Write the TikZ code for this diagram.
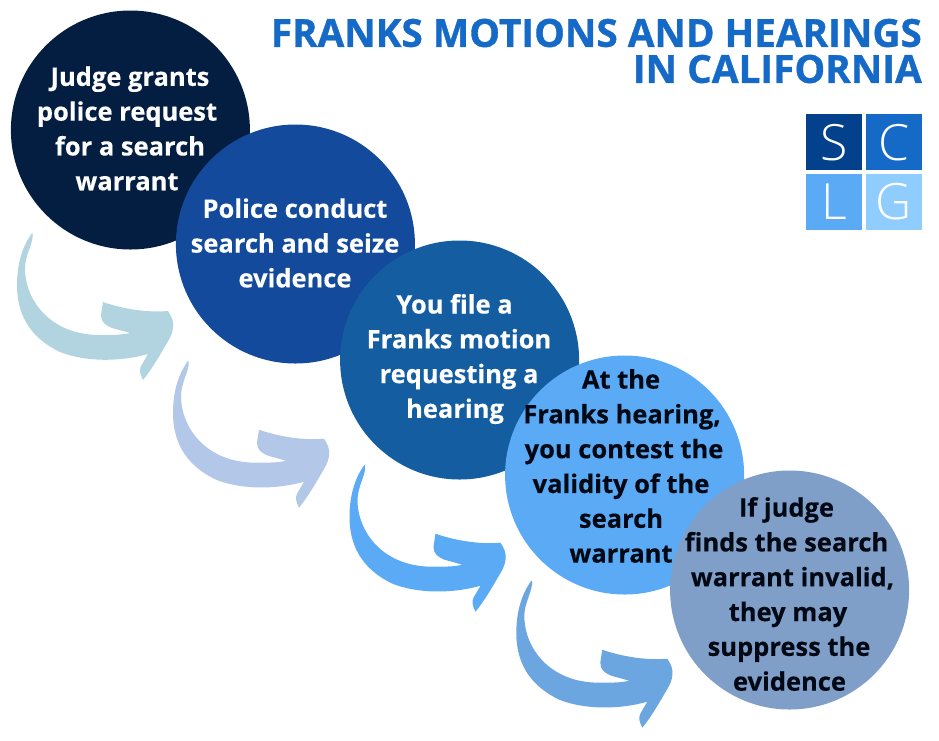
\documentclass[tikz,border=0pt]{standalone}
\usepackage{fontspec}
\setmainfont{Open Sans}
\newfontfamily\logofont{Open Sans Light}
\newfontfamily\stepfont[FakeBold=0.3]{Open Sans Bold}
\newfontfamily\titlefont[FakeBold=0.9]{Open Sans Bold}
\definecolor{cOne}{HTML}{041E42}
\definecolor{cTwo}{HTML}{134A9B}
\definecolor{cThree}{HTML}{145DA0}
\definecolor{cFour}{HTML}{5AAAF5}
\definecolor{cFive}{HTML}{7F9FC9}
\definecolor{aOne}{HTML}{B2D4E1}
\definecolor{aTwo}{HTML}{B3C8E8}
\definecolor{aFour}{HTML}{6BA6E0}
\definecolor{titleblue}{HTML}{1569C7}
\definecolor{ink}{HTML}{000814}
\definecolor{logoS}{HTML}{03418C}
\definecolor{logoC}{HTML}{1569C7}
\definecolor{logoG}{HTML}{90CDFF}
\newcommand{\lsh}[1]{\hspace*{#1pt}}
\tikzset{
  stepcircle/.style={circle,minimum size=239pt,inner sep=0pt},
  steptext/.style={inner sep=0pt,align=center,
    font=\fontsize{25.5}{34.8}\stepfont},
  logobox/.style={minimum size=56pt,inner sep=0pt,text=white,
    font=\fontsize{50}{50}\logofont},
  titletext/.style={anchor=east,text=titleblue,inner sep=0pt,
    font=\fontsize{38.7}{38.7}\titlefont},
  swoosh/.pic={
    \fill[pic actions]
    (32.7,233) .. controls (34,242) and (25,255) .. (25,268)
    .. controls (25,300) and (50,335) .. (100,335)
    .. controls (112,335) and (122,335) .. (130,333)
    -- (112,328) .. controls (105,325) and (101,322) .. (101,315)
    -- (103,302) .. controls (120,308) and (145,313) .. (168,311)
    .. controls (172,317) and (174,322) .. (173,328)
    .. controls (172,336) and (168,341) .. (167,343)
    .. controls (160,355) and (152,369) .. (143,380)
    .. controls (140,374) and (139,370) .. (141,366)
    -- (148,354) .. controls (120,362) and (85,362) .. (60,352)
    .. controls (35,340) and (17,320) .. (17,285)
    .. controls (17,265) and (22,248) .. (30,236)
    .. controls (31,234) and (32,233) .. (32.7,233) -- cycle;
  }
}
\begin{document}
\begin{tikzpicture}[x=1pt,y=-1pt]
\useasboundingbox (0,0) rectangle (939,740);
\pic[aOne] {swoosh};
\pic[aTwo,shift={(156,127.7)}] {swoosh};
\pic[cFour,shift={(332.5,231.7)}] {swoosh};
\pic[aFour,shift={(499.3,347.7)}] {swoosh};
\node[stepcircle,fill=cOne] (one) at (130.4,130) {};
\node[steptext,text=white] (onet) at (130,128.5) {Judge grants\\\lsh{-6}police request\\for a search\\warrant\lsh{6}};
\node[stepcircle,fill=cTwo] (two) at (295.4,244) {};
\node[steptext,text=white] (twot) at (295,243) {Police conduct\\search and seize\\evidence};
\node[stepcircle,fill=cThree] (three) at (459.6,360) {};
\node[steptext,text=white] (threet) at (459,359) {You file a\lsh{9}\\Franks motion\\requesting a\lsh{2}\\hearing\lsh{8}};
\node[stepcircle,fill=cFour] (four) at (624.6,475) {};
\node[steptext,text=ink] (fourt) at (621,466) {At the\\\lsh{2}Franks hearing,\\\lsh{6}you contest the\\validity of the\\search\\warrant};
\node[stepcircle,fill=cFive] (five) at (789.6,590) {};
\node[steptext,text=ink] (fivet) at (788,594) {If judge\lsh{3}\\\lsh{-3}finds the search\\\lsh{9}warrant invalid,\\they may\\\lsh{2}suppress the\\\lsh{3}evidence};
\node[titletext] (t1) at (922,33) {FRANKS MOTIONS AND HEARINGS};
\node[titletext] (t2) at (922,69) {IN CALIFORNIA};
\node[logobox,fill=logoS] (s) at (834.3,142.3) {S};
\node[logobox,fill=logoC] (c) at (894,142.3) {C};
\node[logobox,fill=cFour] (l) at (834.3,202) {L};
\node[logobox,fill=logoG] (g) at (894,202) {G};
\end{tikzpicture}
\end{document}
